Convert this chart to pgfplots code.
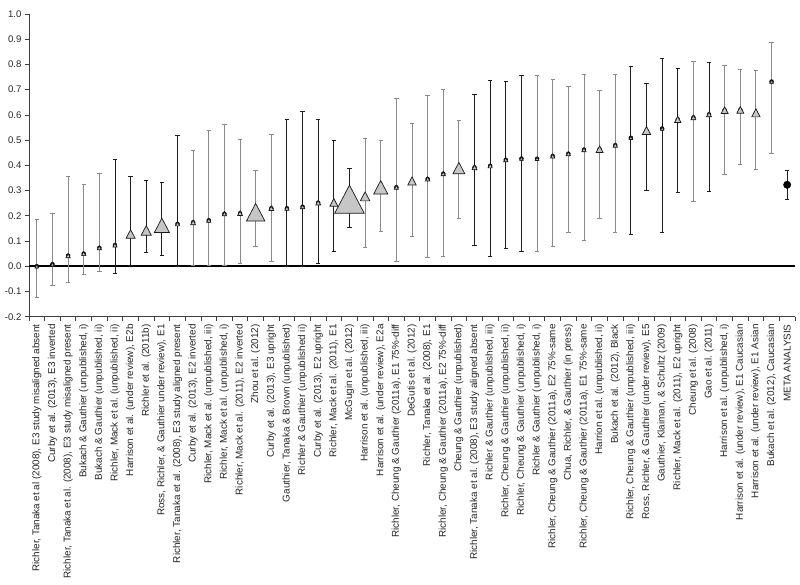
\documentclass[border=0pt]{standalone}
\usepackage{fontspec}
\setmainfont{Liberation Sans}
\usepackage{pgfplots}
\usepackage{pgfplotstable}
\pgfplotsset{compat=1.18}
\definecolor{barg}{HTML}{8A8A8A}
\definecolor{bark}{HTML}{1E1E1E}
\definecolor{tfill}{HTML}{C6C6C6}
\pgfdeclareplotmark{tri}{%
  \pgfpathmoveto{\pgfqpoint{0pt}{\pgfplotmarksize}}%
  \pgfpathlineto{\pgfqpoint{-1.05\pgfplotmarksize}{-\pgfplotmarksize}}%
  \pgfpathlineto{\pgfqpoint{1.05\pgfplotmarksize}{-\pgfplotmarksize}}%
  \pgfpathclose\pgfusepathqfillstroke}

% error bars drawn in black
\pgfplotstableread{
x y lo hi
5 0.084 -0.028 0.423
6 0.128 0.004 0.356
7 0.142 0.055 0.342
8 0.162 0.041 0.332
9 0.168 0.000 0.517
16 0.230 0.000 0.580
17 0.236 0.000 0.613
18 0.252 0.013 0.580
19 0.253 0.057 0.497
20 0.266 0.154 0.388
28 0.392 0.084 0.682
29 0.398 0.038 0.736
30 0.422 0.069 0.734
31 0.427 0.057 0.756
38 0.509 0.128 0.792
39 0.538 0.302 0.726
40 0.546 0.135 0.825
41 0.582 0.293 0.785
43 0.602 0.297 0.809
}\blackbars

% error bars drawn in grey
\pgfplotstableread{
x y lo hi
0 0.000 -0.125 0.186
1 0.008 -0.077 0.211
2 0.042 -0.065 0.356
3 0.050 -0.034 0.326
4 0.073 -0.021 0.369
10 0.174 0.004 0.458
11 0.182 0.003 0.538
12 0.208 0.004 0.561
13 0.210 0.013 0.504
14 0.214 0.078 0.379
15 0.230 0.018 0.521
21 0.277 0.075 0.508
22 0.313 0.136 0.497
23 0.313 0.018 0.665
24 0.338 0.120 0.567
25 0.346 0.036 0.679
26 0.367 0.038 0.699
27 0.389 0.191 0.578
32 0.426 0.057 0.756
33 0.437 0.079 0.741
34 0.446 0.135 0.712
35 0.462 0.102 0.759
36 0.464 0.191 0.697
37 0.480 0.135 0.759
42 0.590 0.255 0.811
44 0.619 0.365 0.796
45 0.620 0.405 0.782
46 0.608 0.383 0.776
47 0.732 0.446 0.887
}\greybars

% effect sizes and marker sizes (weights)
\pgfplotstableread{
x y s
0 0.000 1.7
1 0.008 1.7
2 0.042 2
3 0.050 2
4 0.073 2
5 0.084 2
6 0.128 4.3
7 0.142 4.8
8 0.162 7.2
9 0.168 2
10 0.174 2.3
11 0.182 2
12 0.208 2
13 0.210 2.3
14 0.214 8.8
15 0.230 2.3
16 0.230 2
17 0.236 2
18 0.252 2.3
19 0.253 3.8
20 0.266 14
21 0.277 4.5
22 0.313 6.7
23 0.313 2
24 0.338 4
25 0.346 2
26 0.367 2
27 0.389 5.7
28 0.392 2.3
29 0.398 2
30 0.422 2
31 0.427 1.7
32 0.426 1.7
33 0.437 2
34 0.446 2
35 0.462 2
36 0.464 3.3
37 0.480 2
38 0.509 1.7
39 0.538 4
40 0.546 1.7
41 0.582 3
42 0.590 2.3
43 0.602 2.3
44 0.619 3.3
45 0.620 3.3
46 0.608 4
47 0.732 1.7
}\points

\pgfplotstableread{
x y lo hi
48 0.323 0.264 0.381
}\meta

\begin{document}
\begin{tikzpicture}
\begin{axis}[
  scale only axis, width=766pt, height=302.7pt,
  xmin=-0.5, xmax=48.5, ymin=-0.2, ymax=1.0,
  axis x line*=bottom, axis y line*=left,
  axis line style={-, black!75, line width=0.8pt},
  tick style={black!75, line width=0.8pt},
  tick align=outside, major tick length=4pt, minor tick length=4pt,
  major x tick style={draw=none},
  ytick={-0.2,-0.1,0,0.1,0.2,0.3,0.4,0.5,0.6,0.7,0.8,0.9,1.0},
  yticklabels={-0.2,-0.1,0.0,0.1,0.2,0.3,0.4,0.5,0.6,0.7,0.8,0.9,1.0},
  xtick={0,1,...,48},
  minor xtick={-0.5,0.5,...,48.5},
  xticklabels={
    {Richler, Tanaka et al (2008), E3 study misaligned absent},
    {Curby et al. (2013), E3 inverted},
    {Richler, Tanaka et al. (2008), E3 study misaligned present},
    {Bukach \& Gauthier (unpublished, i)},
    {Bukach \& Gauthier (unpublished, ii)},
    {Richler, Mack et al. (unpublished, ii)},
    {Harrison et al. (under review), E2b},
    {Richler et al. (2011b)},
    {Ross, Richler, \& Gauthier under review), E1},
    {Richler, Tanaka et al. (2008), E3 study aligned present},
    {Curby et al. (2013), E2 inverted},
    {Richler, Mack et al. (unpublished, iii)},
    {Richler, Mack et al. (unpublished, i)},
    {Richler, Mack et al. (2011), E2 inverted},
    {Zhou et al. (2012)},
    {Curby et al. (2013), E3 upright},
    {Gauthier, Tanaka \& Brown (unpublished)},
    {Richler \& Gauthier (unpublished ii)},
    {Curby et al. (2013), E2 upright},
    {Richler, Mack et al. (2011), E1},
    {McGugin et al. (2012)},
    {Harrison et al. (unpublished, iii)},
    {Harrison et al. (under review), E2a},
    {Richler, Cheung \& Gauthier (2011a), E1 75\%-diff},
    {DeGutis et al. (2012)},
    {Richler, Tanaka et al. (2008), E1},
    {Richler, Cheung \& Gauthier (2011a), E2 75\%-diff},
    {Cheung \& Gauthier (unpublished)},
    {Richler, Tanaka et al. (2008), E3 study aligned absent},
    {Richler \& Gauthier (unpublished, iii)},
    {Richler, Cheung \& Gauthier (unpublished, ii)},
    {Richler, Cheung \& Gauthier (unpublished, i)},
    {Richler \& Gauthier (unpublished, i)},
    {Richler, Cheung \& Gauthier (2011a), E2 75\%-same},
    {Chua, Richler, \& Gauthier (in press)},
    {Richler, Cheung \& Gauthier (2011a), E1 75\%-same},
    {Harrion et al. (unpublished, ii)},
    {Bukach et al. (2012), Black},
    {Richler, Cheung \& Gauthier (unpublished, iii)},
    {Ross, Richler, \& Gauthier (under review), E5},
    {Gauthier, Klaiman, \& Schultz (2009)},
    {Richler, Mack et al. (2011), E2 upright},
    {Cheung et al. (2008)},
    {Gao et al. (2011)},
    {Harrison et al. (unpublished, i)},
    {Harrison et al. (under review), E1 Caucasian},
    {Harrison et al. (under review), E1 Asian},
    {Bukach et al. (2012), Caucasian},
    {META ANALYSIS}},
  x tick label style={rotate=90, anchor=east, font=\fontsize{9.9}{11}\selectfont, text=black!85, inner sep=3.5pt},
  y tick label style={font=\fontsize{9.6}{11}\selectfont, text=black!85},
  clip=false,
]
\addplot[black, line width=1.6pt, forget plot] coordinates {(-0.5,0) (48.5,0)};

\addplot[only marks, mark=none, forget plot,
  error bars/.cd, y dir=both, y explicit, error mark=|,
  error bar style={line width=0.9pt, bark},
  error mark options={mark size=2.2pt, line width=0.9pt, bark}]
  table[x=x, y=y, y error plus expr=\thisrow{hi}-\thisrow{y}, y error minus expr=\thisrow{y}-\thisrow{lo}] {\blackbars};

\addplot[only marks, mark=none, forget plot,
  error bars/.cd, y dir=both, y explicit, error mark=|,
  error bar style={line width=0.9pt, barg},
  error mark options={mark size=2.2pt, line width=0.9pt, barg}]
  table[x=x, y=y, y error plus expr=\thisrow{hi}-\thisrow{y}, y error minus expr=\thisrow{y}-\thisrow{lo}] {\greybars};

\addplot[only marks, mark=none, forget plot,
  error bars/.cd, y dir=both, y explicit, error mark=|,
  error bar style={line width=0.9pt, bark},
  error mark options={mark size=2.2pt, line width=0.9pt, bark}]
  table[x=x, y=y, y error plus expr=\thisrow{hi}-\thisrow{y}, y error minus expr=\thisrow{y}-\thisrow{lo}] {\meta};

\addplot[scatter, only marks, mark=tri, line width=0.7pt,
  scatter/use mapped color={draw=black!90, fill=tfill},
  visualization depends on={\thisrow{s} \as \msize},
  scatter/@pre marker code/.append style={/tikz/mark size=\msize pt}]
  table[x=x, y=y] {\points};

\addplot[only marks, mark=*, mark size=3.7pt, black] table[x=x, y=y] {\meta};
\end{axis}
\pgfresetboundingbox
\path[use as bounding box] (-29pt,-267.3pt) rectangle (771pt,316.7pt);
\end{tikzpicture}
\end{document}
